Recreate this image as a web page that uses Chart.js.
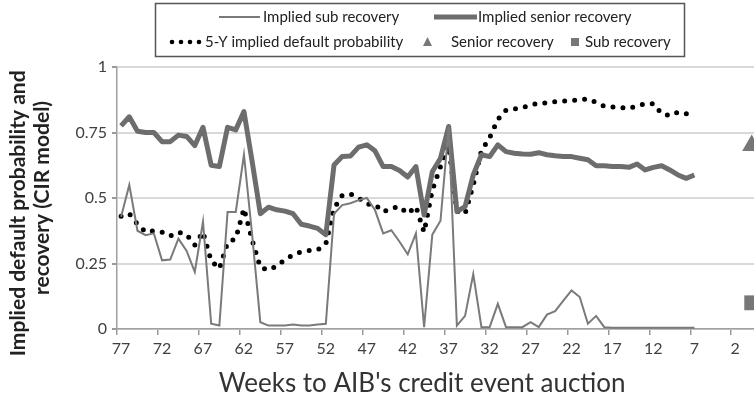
<!DOCTYPE html>
<html lang="en">
<head>
  <meta charset="UTF-8">
  <title>AIB implied recovery</title>
  <script src="https://cdn.jsdelivr.net/npm/chart.js"></script>
  <style>
    body { margin: 0; background: #fff; }
    #wrap { width: 754px; height: 399px; position: relative; }
  </style>
</head>
<body>
<div id="wrap"><canvas id="aibChart"></canvas></div>

<script>
  // weeks to the credit event auction (x)
  const weeks = [77, 76, 75, 74, 73, 72, 71, 70, 69, 68,
                 67, 66, 65, 64, 63, 62, 61, 60, 59, 58,
                 57, 56, 55, 54, 53, 52, 51, 50, 49, 48,
                 47, 46, 45, 44, 43, 42, 41, 40, 39, 38,
                 37, 36, 35, 34, 33, 32, 31, 30, 29, 28,
                 27, 26, 25, 24, 23, 22, 21, 20, 19, 18,
                 17, 16, 15, 14, 13, 12, 11, 10, 9, 8,
                 7];

  const subRecovery = [0.428, 0.55, 0.375, 0.358, 0.365, 0.262, 0.265, 0.345, 0.298, 0.218,
                       0.41, 0.02, 0.013, 0.447, 0.447, 0.665, 0.36, 0.026, 0.013, 0.013,
                       0.013, 0.017, 0.013, 0.013, 0.017, 0.02, 0.44, 0.473, 0.48, 0.492,
                       0.50, 0.454, 0.365, 0.377, 0.333, 0.285, 0.365, 0.007, 0.36, 0.413,
                       0.773, 0.013, 0.05, 0.21, 0.007, 0.007, 0.096, 0.007, 0.007, 0.007,
                       0.026, 0.007, 0.055, 0.068, 0.108, 0.147, 0.122, 0.02, 0.05, 0.007,
                       0.005, 0.005, 0.005, 0.005, 0.005, 0.005, 0.005, 0.005, 0.005, 0.005,
                       0.005];

  const seniorRecovery = [0.775, 0.81, 0.755, 0.75, 0.75, 0.715, 0.715, 0.74, 0.735, 0.70,
                          0.77, 0.625, 0.62, 0.77, 0.76, 0.83, 0.64, 0.44, 0.465, 0.455,
                          0.45, 0.44, 0.40, 0.393, 0.384, 0.36, 0.626, 0.658, 0.66, 0.694,
                          0.703, 0.68, 0.62, 0.62, 0.605, 0.58, 0.62, 0.435, 0.60, 0.652,
                          0.773, 0.448, 0.467, 0.588, 0.665, 0.658, 0.703, 0.677, 0.671, 0.668,
                          0.667, 0.673, 0.665, 0.661, 0.658, 0.658, 0.652, 0.646, 0.623, 0.623,
                          0.62, 0.62, 0.617, 0.63, 0.607, 0.617, 0.623, 0.607, 0.588, 0.575,
                          0.588];

  const defaultProb = [0.43, 0.44, 0.40, 0.37, 0.375, 0.37, 0.355, 0.37, 0.36, 0.32,
                       0.37, 0.26, 0.23, 0.33, 0.345, 0.46, 0.34, 0.235, 0.225, 0.24,
                       0.265, 0.283, 0.295, 0.30, 0.302, 0.325, 0.46, 0.51, 0.515, 0.50,
                       0.477, 0.475, 0.447, 0.46, 0.467, 0.44, 0.467, 0.37, 0.53, 0.62,
                       0.70, 0.45, 0.44, 0.55, 0.68, 0.73, 0.80, 0.835, 0.84, 0.845,
                       0.855, 0.862, 0.863, 0.868, 0.87, 0.872, 0.876, 0.878, 0.865, 0.85,
                       0.847, 0.845, 0.842, 0.852, 0.86, 0.86, 0.822, 0.814, 0.828, 0.822,
                       0.815];

  // auction outcome, plotted at week 0
  const auctionWeek = 0;
  const seniorAuction = 0.70;
  const subAuction = 0.10;

  const xTickLabels = [77, 72, 67, 62, 57, 52, 47, 42, 37, 32, 27, 22, 17, 12, 7, 2];
  const yTickValues = [0, 0.25, 0.5, 0.75, 1];
  const yTickLabels = ['0', '0.25', '0.5', '0.75', '1'];

  const toPoints = vals => weeks.map((w, i) => ({ x: w, y: vals[i] }));

  const FONT = 'Lato, "Open Sans", sans-serif';

  // boxed two-row legend like the original
  const boxLegend = {
    id: 'boxLegend',
    afterDraw(chart) {
      const ctx = chart.ctx;
      ctx.save();
      ctx.strokeStyle = '#555';
      ctx.lineWidth = 1.5;
      ctx.strokeRect(155.5, 3.5, 529, 53);

      ctx.font = '15px ' + FONT;
      ctx.fillStyle = '#222';
      ctx.textBaseline = 'middle';
      ctx.lineCap = 'butt';

      // row 1
      let y = 17;
      ctx.strokeStyle = '#7a7a7a';
      ctx.lineWidth = 2;
      ctx.beginPath(); ctx.moveTo(219, y); ctx.lineTo(260, y); ctx.stroke();
      ctx.fillText('Implied sub recovery', 263, y, 142);
      ctx.strokeStyle = '#6d6d6d';
      ctx.lineWidth = 5;
      ctx.beginPath(); ctx.moveTo(434, y); ctx.lineTo(477, y); ctx.stroke();
      ctx.fillText('Implied senior recovery', 478, y, 162);

      // row 2
      y = 42;
      ctx.fillStyle = '#000';
      [172, 181, 190, 199].forEach(x => {
        ctx.beginPath(); ctx.arc(x, y, 2.3, 0, Math.PI * 2); ctx.fill();
      });
      ctx.fillStyle = '#222';
      ctx.fillText('5-Y implied default probability', 205, y, 213);
      ctx.fillStyle = '#777';
      ctx.beginPath(); ctx.moveTo(427.5, y - 5); ctx.lineTo(432, y + 4); ctx.lineTo(423, y + 4); ctx.closePath(); ctx.fill();
      ctx.fillStyle = '#222';
      ctx.fillText('Senior recovery', 451, y, 104);
      ctx.fillStyle = '#777';
      ctx.fillRect(571, y - 4, 8, 8);
      ctx.fillStyle = '#222';
      ctx.fillText('Sub recovery', 585, y, 86);
      ctx.restore();
    }
  };

  const ctx = document.getElementById('aibChart').getContext('2d');
  new Chart(ctx, {
    type: 'line',
    data: {
      datasets: [
        {
          label: 'Implied sub recovery',
          data: toPoints(subRecovery),
          borderColor: '#7a7a7a',
          borderWidth: 2,
          pointRadius: 0,
          tension: 0
        },
        {
          label: 'Implied senior recovery',
          data: toPoints(seniorRecovery),
          borderColor: '#6d6d6d',
          borderWidth: 5,
          borderJoinStyle: 'round',
          pointRadius: 0,
          tension: 0
        },
        {
          label: '5-Y implied default probability',
          data: toPoints(defaultProb),
          borderColor: '#000',
          borderWidth: 5,
          borderDash: [0, 10],
          borderCapStyle: 'round',
          pointRadius: 0,
          tension: 0
        },
        {
          label: 'Senior recovery',
          data: [{ x: auctionWeek, y: seniorAuction }],
          showLine: false,
          pointStyle: 'triangle',
          pointRadius: 11,
          backgroundColor: '#777',
          borderWidth: 0,
          clip: false
        },
        {
          label: 'Sub recovery',
          data: [{ x: auctionWeek, y: subAuction }],
          showLine: false,
          pointStyle: 'rect',
          pointRadius: 10.5,
          backgroundColor: '#777',
          borderWidth: 0,
          clip: false
        }
      ]
    },
    options: {
      responsive: true,
      maintainAspectRatio: false,
      animation: false,
      layout: { autoPadding: false, padding: { top: 67, right: 0, left: 0, bottom: 0 } },
      plugins: {
        legend: { display: false },
        tooltip: { enabled: false }
      },
      scales: {
        x: {
          type: 'linear',
          reverse: true,
          min: -0.28,
          max: 77.5,
          afterBuildTicks: s => { s.ticks = xTickLabels.map(v => ({ value: v + 0.5 })); },
          afterFit: s => { s.height = 70; s.paddingLeft = 0; s.paddingRight = 0; },
          grid: { drawOnChartArea: false, tickLength: 6, tickColor: '#999', lineWidth: 1.5 },
          border: { color: '#a0a0a0', width: 1.5 },
          ticks: {
            autoSkip: false,
            maxRotation: 0,
            labelOffset: 4,
            padding: 4,
            color: '#404040',
            font: { family: FONT, size: 16 },
            callback: v => String(Math.round(v - 0.5))
          },
          title: {
            display: true,
            text: "Weeks to AIB's credit event auction    ",
            color: '#333',
            font: { family: FONT, size: 26 },
            padding: { top: 0, bottom: 0 }
          }
        },
        y: {
          min: 0,
          max: 1,
          afterBuildTicks: s => { s.ticks = yTickValues.map(v => ({ value: v })); },
          afterFit: s => { s.width = 117; },
          grid: { color: '#d9d9d9', lineWidth: 2, tickLength: 5, tickColor: '#999' },
          border: { color: '#a0a0a0', width: 1.5 },
          ticks: {
            padding: 5,
            color: '#404040',
            font: { family: FONT, size: 16 },
            callback: (v, i) => yTickLabels[i]
          },
          title: {
            display: true,
            text: ['Implied default probability and      ', 'recovery (CIR model)'],
            color: '#222',
            font: { family: FONT, size: 21, weight: 'bold', lineHeight: 1.15 },
            padding: { top: 6, bottom: 0 }
          }
        }
      }
    },
    plugins: [boxLegend]
  });
</script>
</body>
</html>
